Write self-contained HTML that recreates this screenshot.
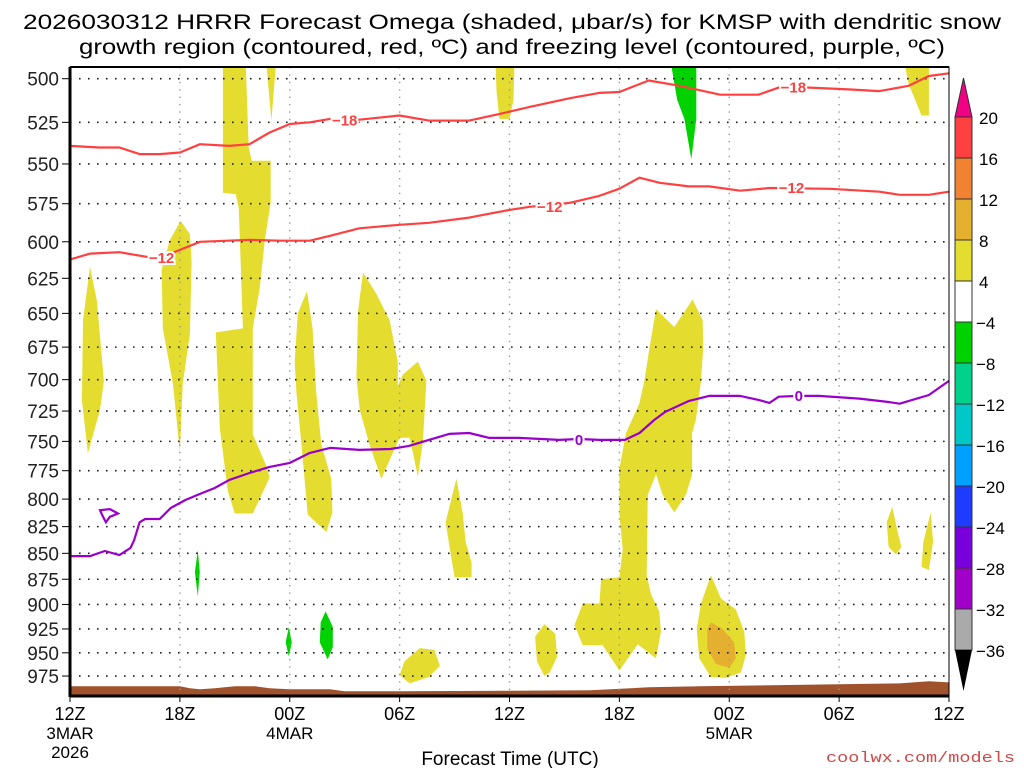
<!DOCTYPE html>
<html><head><meta charset="utf-8"><style>
html,body{margin:0;padding:0;background:#fff;}
svg{display:block;font-family:"Liberation Sans",sans-serif;}
</style></head><body>
<svg id="chart" width="1024" height="768" viewBox="0 0 1024 768">
<g id="title">
<text x="512" y="29" text-anchor="middle" font-size="21" textLength="978" lengthAdjust="spacingAndGlyphs">2026030312 HRRR Forecast Omega (shaded, μbar/s) for KMSP with dendritic snow</text>
<text x="512" y="54" text-anchor="middle" font-size="21" textLength="866" lengthAdjust="spacingAndGlyphs">growth region (contoured, red, ºC) and freezing level (contoured, purple, ºC)</text>
</g>
<g id="shade"></g>
<g id="terrain"></g>
<g id="grid"></g>
<g id="lines"></g>
<g id="axes"></g>
<g id="cbar"></g>
<text x="510" y="765" text-anchor="middle" font-size="19">Forecast Time (UTC)</text>
<text x="826" y="762" font-size="15" fill="#d04848" font-family="Liberation Mono, monospace" textLength="189" lengthAdjust="spacingAndGlyphs">coolwx.com/models</text>
</svg>
<script>
const pressureTicks=[500,525,550,575,600,625,650,675,700,725,750,775,800,825,850,875,900,925,950,975];
const hourTicks=[0,6,12,18,24,30,36,42,48];
const hourLabels=["12Z","18Z","00Z","06Z","12Z","18Z","00Z","06Z","12Z"];
const dateLabels={0:["3MAR","2026"],12:["4MAR"],36:["5MAR"]};
const cbarLevels=["20","16","12","8","4","−4","−8","−12","−16","−20","−24","−28","−32","−36"];
const cbarColors=["#ff4040","#f08232","#e5af30","#e5dc30","#ffffff","#00d200","#00d28c","#00c8c8","#00a0ff","#1e3cff","#7800dc","#a000c8","#aaaaaa"];
// contour lines: hours / pressure (hPa)
const m18Hours=[0,1.6,2.7,3.8,4.9,6,7.1,8.7,9.8,10.9,12,13.1,14.2,15.3,18,19.6,21.8,23.5,25.1,27.3,28.9,30,31.6,33.3,35.5,37.6,38.7,40.4,42.5,44.2,45.8,46.9,48];
const m18Pres=[539,540,540,544,544,543,538,539,538,531,526,525,523,524,521,524,524,520,516,511,508,507.5,501,504,509,509,505,505,506,507,504,498.5,497];
const m12Hours=[0,1.1,2.7,4.1,4.9,6,7.1,9.8,11.5,13.1,14.2,15.8,18,19.6,21.8,24,25.1,27.3,28.9,30,31.1,32.2,33.8,34.9,36.6,38.2,41.5,44.2,45.3,46.9,48];
const m12Pres=[612,608,607,610,611,605.5,600,598.7,599.3,599.3,596,591,588.7,587.4,584,579,577,574.4,570,565.4,558.5,561.7,564,564,566.7,565,565.5,567.3,569.3,569.3,567.3];
const frzHours=[0,1.1,1.9,2.7,3.3,3.5,3.8,4.1,4.9,5.5,6.3,7.1,7.9,8.7,9.8,10.9,12,13.1,14.2,15.8,17.5,18.5,19.6,20.7,21.8,22.9,24.5,26.7,27.8,28.9,30.3,31.1,31.9,32.5,33.8,34.9,36.6,37.6,38.2,38.7,39.8,40.9,43.1,44.7,45.3,46.9,48];
const frzPres=[852.6,852.6,847.8,851.7,845,837.7,821,818,818,808,800.8,795.4,790.1,783,777,771.7,768.3,759.7,755.5,757.2,756.4,753.8,748.8,743.8,743,747.1,747.1,748.8,748,748.8,748.8,743,732.3,725.7,716.8,712.8,712.8,716,718.4,713.5,712.8,712.8,715,717.7,719.1,712.1,701];
const frzLoopHours=[1.64,2.18,2.62,2.18,1.96,1.75];
const frzLoopPres=[810,809,813,816,821,814];
const labelsM18=[[15.0,524],[39.5,505]];
const labelsM12=[[5.0,611],[26.2,577],[39.4,565]];
const labelsFrz=[[27.8,748.8],[39.8,712.8]];
// terrain surface pressure
const terrHours=[0,6,6.55,7.1,7.9,9.0,10.1,10.9,12,14.2,15,18,28.4,31.6,34.4,45.3,46.9,48];
const terrPres=[986.3,986.3,988.5,989.6,988.5,986.3,986.3,988.5,989.6,989.6,991.8,991.8,990.7,987.4,986.3,983,980.8,982];
// omega shaded regions (hour, hPa) by level
const yellowRegions=[
[[8.35,493],[9.6,493],[9.76,540],[9.93,548],[10.96,548],[10.96,574],[10.64,599],[10.36,632],[9.98,661],[9.98,744],[10.75,772],[10.9,781],[9.98,813],[9.0,813],[8.62,793],[8.18,739],[7.96,664],[9.44,661],[9.22,578],[9.05,569],[8.35,568]],
[[10.73,493],[11.24,493],[11.0,524]],
[[6.04,586],[6.55,595],[6.64,614],[6.55,665],[6.16,703],[6.0,759],[5.62,703],[5.07,661],[5.0,619],[5.45,599]],
[[1.09,617],[1.47,641],[1.85,701],[1.64,724],[0.98,760],[0.65,716],[0.71,655]],
[[12.94,634],[13.25,661],[13.45,711],[13.73,753],[14.27,782],[14.33,812],[14.0,830],[12.98,814],[12.64,753],[12.37,711],[12.27,686],[12.44,650]],
[[16.0,621],[16.73,636],[17.45,655],[17.9,686],[17.9,705],[18.18,696],[19.0,686],[19.46,701],[19.27,750],[19.0,780],[18.55,747],[18.0,747],[17.0,782],[16.36,753],[15.82,724],[15.64,698],[15.73,648]],
[[21.1,782],[21.44,812],[21.6,839],[21.93,859],[21.93,873],[21.0,873],[20.73,844],[20.51,821]],
[[18.27,959],[19.1,945],[19.9,947],[20.2,964],[19.6,976],[18.55,983],[18.0,974]],
[[25.9,920],[26.5,930],[26.6,954],[26.2,971],[25.9,975],[25.5,959],[25.4,933]],
[[32.0,647],[33.0,660],[34.0,640],[34.55,655],[34.58,676],[34.46,701],[34.18,732],[33.97,743],[33.97,778],[33.64,796],[33.0,812],[32.36,796],[32.0,778],[31.55,796],[31.49,871],[31.73,890],[32.18,907],[32.27,928],[32.0,956],[31.0,941],[30.0,969],[29.09,942],[28.0,942],[27.55,921],[28.0,899],[28.91,899],[29.0,875],[30.0,873],[30.18,846],[30.0,814],[30.0,773],[30.36,743],[31.09,719],[31.36,701],[31.64,676]],
[[35.0,871],[35.55,894],[36.36,905],[36.82,928],[36.91,952],[36.64,971],[35.82,977],[35.0,976],[34.36,956],[34.22,925],[34.46,899]],
[[23.24,493],[24.27,493],[24.22,512],[24.0,523],[23.45,523],[23.29,507]],
[[45.6,493],[46.9,493],[46.9,521],[46.5,521],[45.8,503]],
[[44.9,807],[45.2,830],[45.4,844],[45.1,851],[44.7,844],[44.6,821]],
[[47.0,812],[47.13,839],[46.9,866],[46.5,863],[46.6,839]]
];
const orangeRegions=[[[35.0,918],[35.64,925],[36.27,939],[36.36,956],[36.0,966],[35.27,962],[34.8,946],[34.8,925]]];
const greenRegions=[
[[32.84,493],[34.2,493],[34.2,523],[33.93,547],[33.55,523],[33.16,512]],
[[6.98,847],[7.09,868],[6.98,892],[6.82,868]],
[[11.95,923],[12.11,939],[11.95,954],[11.78,939]],
[[13.96,907],[14.35,923],[14.35,944],[14.07,957],[13.64,939],[13.69,918]]
];

const NS="http://www.w3.org/2000/svg";
const X0=70,X1=949,Y0=67,Y1=696,P0=493.5,P1=997;
function xs(h){return X0+h/48*(X1-X0);}
function ys(p){return Y0+Math.log(p/P0)/Math.log(P1/P0)*(Y1-Y0);}
function mk(tag,attrs,parent){const e=document.createElementNS(NS,tag);for(const k in attrs)e.setAttribute(k,attrs[k]);parent.appendChild(e);return e;}
function pts(arr){return arr.map(d=>xs(d[0]).toFixed(1)+","+ys(d[1]).toFixed(1)).join(" ");}
function zip(a,b){return a.map((v,i)=>[v,b[i]]);}

const shade=document.getElementById('shade');
function drawRegions(list,color,name){list.forEach(r=>{const e=mk('polygon',{points:pts(r),fill:color},shade);

});}
drawRegions(yellowRegions,'#e5dc30','omega-region-4-8');
drawRegions(orangeRegions,'#e5af30','omega-region-8-12');
drawRegions(greenRegions,'#00d200','omega-region-neg4-neg8');

const terr=document.getElementById('terrain');
const tp=zip(terrHours,terrPres);
const tpoly=mk('polygon',{points:pts(tp)+" "+xs(48)+","+Y1+" "+xs(0)+","+Y1,fill:'#a0522d'},terr);



const grid=document.getElementById('grid');
pressureTicks.forEach(p=>{const l=mk('line',{x1:X0,x2:X1,y1:ys(p),y2:ys(p),stroke:'#222','stroke-width':1.6,'stroke-dasharray':'1.6 7.4'},grid);

});
hourTicks.slice(1,-1).forEach(h=>{const l=mk('line',{x1:xs(h),x2:xs(h),y1:Y0,y2:Y1,stroke:'#999','stroke-width':1.4,'stroke-dasharray':'1.4 6'},grid);

});

const lines=document.getElementById('lines');
function drawLine(h,p,color,name){const e=mk('polyline',{points:pts(zip(h,p)),fill:'none',stroke:color,'stroke-width':2.2,'stroke-linejoin':'round'},lines);

}
drawLine(m18Hours,m18Pres,'#ff4040','isotherm-minus18');
drawLine(m12Hours,m12Pres,'#ff4040','isotherm-minus12');
drawLine(frzHours,frzPres,'#9900cc','freezing-level');
const loop=mk('polygon',{points:pts(zip(frzLoopHours,frzLoopPres)),fill:'none',stroke:'#9900cc','stroke-width':2.2},lines);


function lab(list,txt,color,name){list.forEach(d=>{const t=mk('text',{x:xs(d[0]),y:ys(d[1])+5,'text-anchor':'middle','font-size':15,'font-weight':'bold',fill:color,stroke:'#fff','stroke-width':4,'paint-order':'stroke'},lines);t.textContent=txt;

});}
lab(labelsM18,'−18','#ff4040','isotherm-label-minus18');
lab(labelsM12,'−12','#ff4040','isotherm-label-minus12');
lab(labelsFrz,'0','#9900cc','freezing-label');

const ax=document.getElementById('axes');
const fr=mk('rect',{x:X0,y:Y0,width:X1-X0,height:Y1-Y0,fill:'none',stroke:'#000','stroke-width':1},ax);


const la=mk('line',{x1:X0,x2:X0,y1:Y0,y2:Y1+1,stroke:'#000','stroke-width':3},ax);


const ba=mk('line',{x1:X0,x2:X1,y1:Y1,y2:Y1,stroke:'#000','stroke-width':3},ax);


const ta=mk('line',{x1:X0,x2:X1,y1:Y0,y2:Y0,stroke:'#000','stroke-width':2},ax);


pressureTicks.forEach(p=>{mk('line',{x1:X0-8,x2:X0,y1:ys(p),y2:ys(p),stroke:'#000','stroke-width':1},ax);
const t=mk('text',{x:59,y:ys(p)+7,'text-anchor':'end','font-size':19,fill:'#222'},ax);t.textContent=p;

});
hourTicks.forEach((h,i)=>{mk('line',{x1:xs(h),x2:xs(h),y1:Y1,y2:Y1+6,stroke:'#000','stroke-width':1},ax);
const t=mk('text',{x:xs(h),y:720,'text-anchor':'middle','font-size':18},ax);t.textContent=hourLabels[i];


(dateLabels[h]||[]).forEach((s,j)=>{const d=mk('text',{x:xs(h),y:739+j*19,'text-anchor':'middle','font-size':17},ax);d.textContent=s;

});});

const cb=document.getElementById('cbar');
const CX=955,CW=17,CT=117,CH=(650-117)/13;
const up=mk('polygon',{points:`${CX},${CT} ${CX+CW},${CT} ${CX+CW/2},78`,fill:'#f00082',stroke:'#333','stroke-width':1},cb);


cbarColors.forEach((c,i)=>{const r=mk('rect',{x:CX,y:CT+i*CH,width:CW,height:CH,fill:c,stroke:'#333','stroke-width':1},cb);

});
const dn=mk('polygon',{points:`${CX},650 ${CX+CW},650 ${CX+CW/2},691`,fill:'#000'},cb);


cbarLevels.forEach((s,i)=>{const t=mk('text',{x:s.startsWith('−')?976:979,y:CT+i*CH+7,'font-size':17},cb);t.textContent=s;

});
</script>
</body></html>
